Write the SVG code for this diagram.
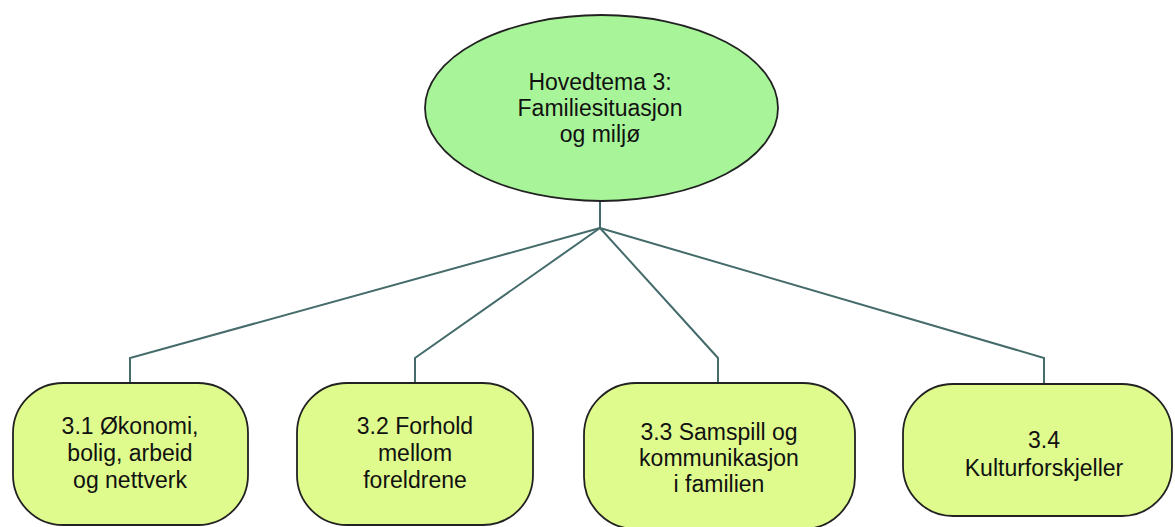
<svg xmlns="http://www.w3.org/2000/svg" width="1175" height="527" viewBox="0 0 1175 527">
<style>
.txt{font-family:"Liberation Sans",Arial,sans-serif;font-size:23px;fill:#111;text-anchor:middle}
.box{fill:#dffb8e;stroke:#222;stroke-width:1.8}
.root{fill:#a8f599;stroke:#222;stroke-width:1.8}
.conn{fill:none;stroke:#456b6b;stroke-width:2}
</style>
<rect width="1175" height="527" fill="#fff"/>
<g id="connectors">
<path class="conn" d="M600 201 V228"/>
<path class="conn" d="M600 228 L130 358 V383"/>
<path class="conn" d="M600 228 L415 358 V383"/>
<path class="conn" d="M600 228 L718 358 V383"/>
<path class="conn" d="M600 228 L1044 358 V383"/>
</g>
<g id="root">
<ellipse class="root" cx="601.5" cy="108" rx="176.5" ry="93"/>
<text class="txt" x="600" y="90">Hovedtema 3:</text>
<text class="txt" x="600" y="116">Familiesituasjon</text>
<text class="txt" x="600" y="142">og miljø</text>
</g>
<g id="n31">
<rect class="box" x="13" y="383" width="235" height="142" rx="50" ry="50"/>
<text class="txt" x="130" y="434">3.1 Økonomi,</text>
<text class="txt" x="130" y="461">bolig, arbeid</text>
<text class="txt" x="130" y="488">og nettverk</text>
</g>
<g id="n32">
<rect class="box" x="297" y="383" width="236" height="142" rx="50" ry="50"/>
<text class="txt" x="415" y="434">3.2 Forhold</text>
<text class="txt" x="415" y="461">mellom</text>
<text class="txt" x="415" y="488">foreldrene</text>
</g>
<g id="n33">
<rect class="box" x="584" y="383" width="271" height="146" rx="52" ry="52"/>
<text class="txt" x="719" y="440">3.3 Samspill og</text>
<text class="txt" x="719" y="466">kommunikasjon</text>
<text class="txt" x="719" y="492">i familien</text>
</g>
<g id="n34">
<rect class="box" x="903" y="384" width="269" height="132" rx="50" ry="50"/>
<text class="txt" x="1044" y="448">3.4</text>
<text class="txt" x="1044" y="476">Kulturforskjeller</text>
</g>
</svg>
